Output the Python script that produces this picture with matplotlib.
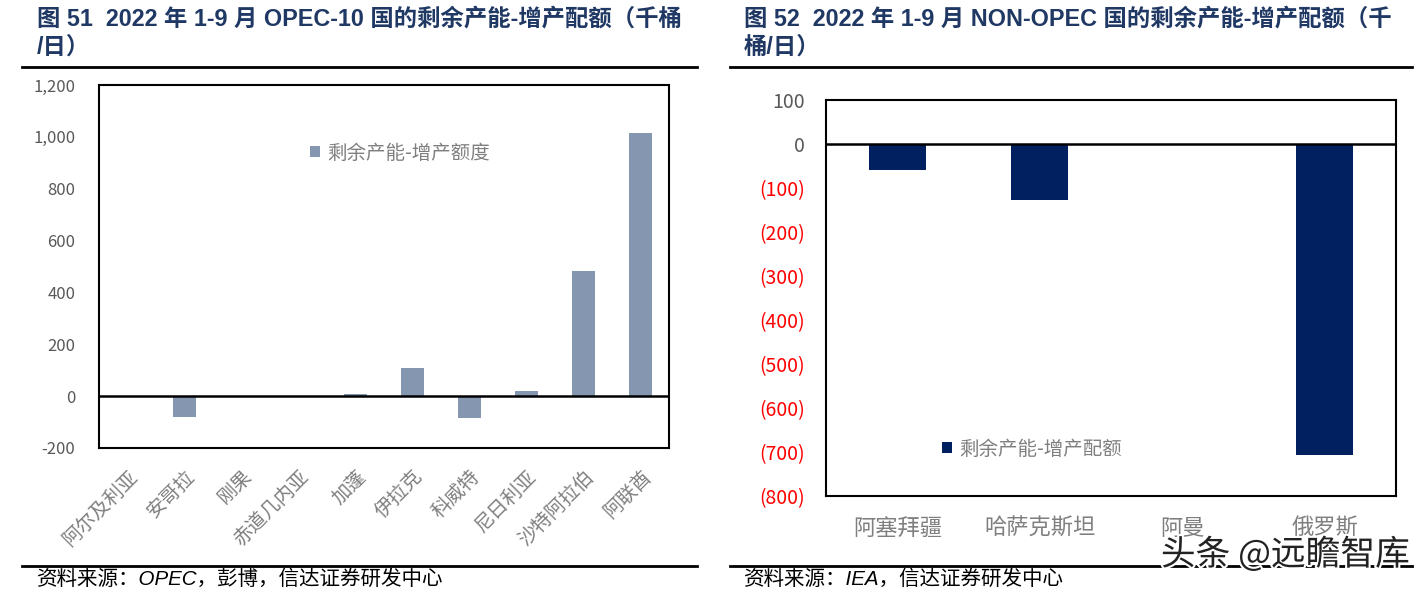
import matplotlib.pyplot as plt
import matplotlib.patheffects as pe
from matplotlib.ticker import FuncFormatter

plt.rcParams['font.family'] = ['Noto Sans CJK SC', 'DejaVu Sans']

# left chart: OPEC-10
opec_countries = ['阿尔及利亚', '安哥拉', '刚果', '赤道几内亚', '加蓬', '伊拉克',
                  '科威特', '尼日利亚', '沙特阿拉伯', '阿联酋']
opec_values = [-5, -80, 0, -5, 10, 108, -86, 20, 482, 1015]
opec_label = '剩余产能-增产额度'

# right chart: NON-OPEC
non_opec_countries = ['阿塞拜疆', '哈萨克斯坦', '阿曼', '俄罗斯']
non_opec_values = [-60, -128, 0, -707]
non_opec_label = '剩余产能-增产配额'

W, H = 1427, 596
fig = plt.figure(figsize=(W / 100, H / 100), dpi=100)

title_col = '#1F3864'
gray = '#595959'
light_gray = '#7F7F7F'
latin_first = ['Liberation Sans', 'Noto Sans CJK SC']


def px_axes(x0, y0, x1, y1):
    return fig.add_axes([x0 / W, 1 - y1 / H, (x1 - x0) / W, (y1 - y0) / H])


def hline(x0, x1, y):
    fig.add_artist(plt.Line2D([x0 / W, x1 / W], [1 - y / H, 1 - y / H],
                              color='black', lw=2))


# titles and rules
fig.text(37 / W, 1 - 7 / H, '图 51  2022 年 1-9 月 OPEC-10 国的剩余产能-增产配额（千桶\n/日）',
         fontsize=16.8, fontweight='bold', color=title_col, family=latin_first,
         va='top', linespacing=1.3)
fig.text(744 / W, 1 - 7 / H, '图 52  2022 年 1-9 月 NON-OPEC 国的剩余产能-增产配额（千\n桶/日）',
         fontsize=16.8, fontweight='bold', color=title_col, family=latin_first,
         va='top', linespacing=1.3)
hline(22, 697, 67)
hline(730, 1412, 67)
hline(22, 697, 566)
hline(730, 1412, 566)
fig.text(37 / W, 1 - 579 / H, '资料来源：OPEC，彭博，信达证券研发中心', fontsize=14.8,
         style='italic', va='center', family=latin_first)
fig.text(744 / W, 1 - 579 / H, '资料来源：IEA，信达证券研发中心', fontsize=14.8,
         style='italic', va='center', family=latin_first)

# left chart
ax1 = px_axes(99, 85, 669, 448)
ax1.bar(range(len(opec_countries)), opec_values, width=0.4, color='#8496B0',
        label=opec_label)
ax1.axhline(0, color='black', lw=1.8)
ax1.set_ylim(-200, 1200)
ax1.set_xlim(-0.5, len(opec_countries) - 0.5)
ax1.set_yticks(range(-200, 1201, 200))
ax1.yaxis.set_major_formatter(FuncFormatter(lambda v, p: f'{int(v):,}'))
ax1.set_xticks(range(len(opec_countries)))
ax1.set_xticklabels(opec_countries, rotation=45, ha='right', rotation_mode='anchor')
ax1.tick_params(axis='both', length=0, colors=gray, labelsize=12)
ax1.tick_params(axis='y', pad=17)
ax1.tick_params(axis='x', pad=13, labelsize=14, colors=light_gray)
for s in ax1.spines.values():
    s.set_linewidth(1.5)
ax1.legend(loc='center left', bbox_to_anchor=(292 / W, 1 - 153 / H),
           bbox_transform=fig.transFigure, frameon=False, fontsize=14,
           handlelength=0.55, handleheight=0.55, handletextpad=0.35, labelcolor=light_gray)

# right chart
ax2 = px_axes(826, 100, 1396, 496)
ax2.bar(range(len(non_opec_countries)), non_opec_values, width=0.4, color='#002060',
        label=non_opec_label)
ax2.axhline(0, color='black', lw=1.8)
ax2.set_ylim(-800, 100)
ax2.set_xlim(-0.5, len(non_opec_countries) - 0.5)
ax2.set_yticks(range(-800, 101, 100))
ax2.yaxis.set_major_formatter(FuncFormatter(lambda v, p: f'({abs(int(v))})' if v < 0 else f'{int(v)}'))
ax2.set_xticks(range(len(non_opec_countries)))
ax2.set_xticklabels(non_opec_countries)
ax2.tick_params(axis='both', length=0, colors=gray, labelsize=14)
ax2.tick_params(axis='y', pad=15)
ax2.tick_params(axis='x', pad=15, labelsize=16, colors=light_gray)
for t in ax2.get_yticklabels():
    if t.get_text().startswith('('):
        t.set_color('#FF0000')
for s in ax2.spines.values():
    s.set_linewidth(1.5)
ax2.legend(loc='center left', bbox_to_anchor=(924 / W, 1 - 449 / H),
           bbox_transform=fig.transFigure, frameon=False, fontsize=14,
           handlelength=0.55, handleheight=0.55, handletextpad=0.35, labelcolor=light_gray)

# watermark
fig.text(1410 / W, 1 - 555 / H, '头条 @远瞻智库', fontsize=25, ha='right', va='center',
         color='#222222', path_effects=[pe.withStroke(linewidth=3, foreground='white')])

fig.savefig('out.png', dpi=100)
